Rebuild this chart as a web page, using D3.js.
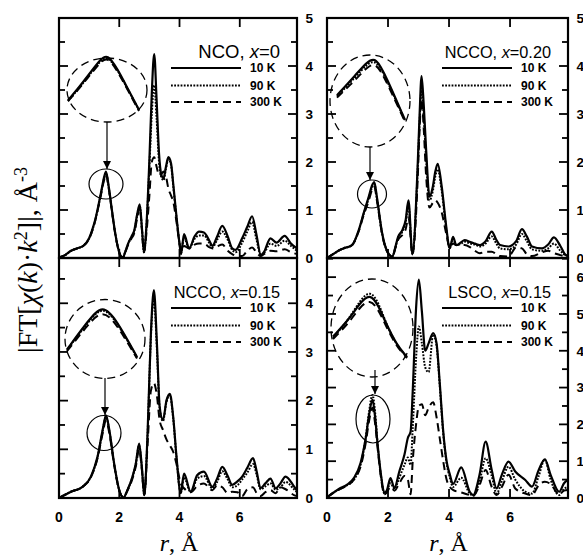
<!DOCTYPE html>
<html>
<head>
<meta charset="utf-8">
<script src="https://cdn.jsdelivr.net/npm/d3@7"></script>
<style>
  html, body { margin: 0; padding: 0; background: #fff; }
  svg { display: block; }
  .tick-lbl { font-family: "Liberation Sans", Arial, sans-serif; font-weight: bold; font-size: 13.5px; }
  .leg-lbl { font-family: "Liberation Sans", Arial, sans-serif; font-weight: bold; font-size: 12px; }
  .title { font-family: "Liberation Sans", Arial, sans-serif; }
  .axis-title { font-family: "Liberation Serif", "Times New Roman", serif; }
</style>
</head>
<body>
<script>
// |FT[chi(k)k^2]| magnitudes, r in Angstrom
const temps = ["10 K", "90 K", "300 K"];

// NCO, x = 0
const rNCO = [0, 0.2, 0.4, 0.6, 0.8, 1.0, 1.1, 1.2, 1.3, 1.4, 1.5, 1.56, 1.65, 1.75, 1.85, 1.95, 2.05, 2.12, 2.2, 2.3,
  2.4, 2.5, 2.6, 2.68, 2.75, 2.82, 2.9, 3.0, 3.08, 3.16, 3.24, 3.32, 3.4, 3.47, 3.55, 3.63, 3.72, 3.8, 3.9, 4.0,
  4.05, 4.15, 4.32, 4.5, 4.65, 4.81, 5.0, 5.09, 5.25, 5.42, 5.6, 5.75, 5.86, 6.08, 6.25, 6.41, 6.55, 6.7, 6.8, 7.02,
  7.22, 7.49, 7.7, 7.9];
const nco10K = [0.01, 0.06, 0.15, 0.2, 0.25, 0.41, 0.58, 0.79, 1.07, 1.38, 1.69, 1.8, 1.49, 1.03, 0.58, 0.24, 0.04, 0.01, 0.13, 0.31,
  0.44, 0.58, 0.93, 1.12, 0.65, 0.12, 0.65, 2.04, 3.43, 4.25, 3.29, 2.18, 1.73, 1.66, 1.9, 2.1, 1.97, 1.49, 0.86, 0.3,
  0.08, 0.5, 0.2, 0.45, 0.55, 0.53, 0.35, 0.25, 0.45, 0.67, 0.45, 0.2, 0.17, 0.41, 0.65, 0.87, 0.5, 0.06, 0.12, 0.41,
  0.32, 0.46, 0.3, 0.2];
const nco90K = [0.01, 0.06, 0.15, 0.2, 0.25, 0.41, 0.57, 0.78, 1.05, 1.36, 1.66, 1.77, 1.47, 1.02, 0.58, 0.24, 0.04, 0.01, 0.13, 0.3,
  0.43, 0.56, 0.9, 1.08, 0.63, 0.12, 0.62, 1.9, 3.0, 3.6, 2.9, 2.0, 1.68, 1.62, 1.86, 2.05, 1.93, 1.45, 0.84, 0.3,
  0.1, 0.42, 0.2, 0.4, 0.47, 0.47, 0.3, 0.22, 0.38, 0.55, 0.38, 0.17, 0.12, 0.32, 0.55, 0.75, 0.4, 0.06, 0.1, 0.3,
  0.25, 0.36, 0.25, 0.15];
const nco300K = [0.01, 0.06, 0.15, 0.2, 0.25, 0.4, 0.56, 0.77, 1.04, 1.34, 1.63, 1.74, 1.45, 1.0, 0.56, 0.23, 0.04, 0.01, 0.12, 0.28,
  0.4, 0.52, 0.85, 1.05, 0.6, 0.12, 0.5, 1.3, 2.0, 2.1, 1.9, 1.72, 1.75, 1.8, 1.7, 1.45, 1.3, 1.15, 0.75, 0.3,
  0.15, 0.25, 0.2, 0.28, 0.3, 0.3, 0.22, 0.2, 0.24, 0.28, 0.15, 0.08, 0.05, 0.04, 0.15, 0.22, 0.12, 0.04, 0.08, 0.15,
  0.14, 0.18, 0.12, 0.08];

// NCCO, x = 0.20
const rNCCO20 = [0, 0.2, 0.4, 0.54, 0.82, 1.04, 1.2, 1.37, 1.47, 1.55, 1.64, 1.81, 1.98, 2.14, 2.25, 2.33, 2.47, 2.58, 2.67, 2.8,
  2.97, 3.03, 3.1, 3.17, 3.25, 3.36, 3.47, 3.55, 3.63, 3.76, 3.91, 4.02, 4.13, 4.24, 4.4, 4.51, 4.7, 4.85, 5.01, 5.2,
  5.4, 5.55, 5.67, 5.95, 6.2, 6.39, 6.55, 6.72, 7.05, 7.25, 7.44, 7.65, 7.83, 7.9];
const ncco20_10K = [0.0, 0.08, 0.16, 0.2, 0.27, 0.58, 0.93, 1.28, 1.5, 1.58, 1.25, 0.51, 0.13, 0.03, 0.25, 0.44, 0.58, 0.8, 1.2, 0.08,
  1.9, 2.9, 3.79, 3.2, 2.25, 1.28, 1.49, 1.8, 1.96, 1.49, 0.65, 0.2, 0.44, 0.27, 0.33, 0.375, 0.33, 0.3, 0.27, 0.35,
  0.55, 0.38, 0.27, 0.24, 0.35, 0.6, 0.45, 0.24, 0.2, 0.28, 0.43, 0.25, 0.06, 0.05];
const ncco20_90K = [0.0, 0.08, 0.16, 0.2, 0.27, 0.57, 0.91, 1.25, 1.46, 1.54, 1.22, 0.5, 0.13, 0.03, 0.24, 0.42, 0.55, 0.75, 1.1, 0.08,
  1.8, 2.75, 3.5, 2.95, 2.05, 1.2, 1.4, 1.7, 1.85, 1.4, 0.6, 0.2, 0.4, 0.27, 0.3, 0.34, 0.3, 0.28, 0.24, 0.3,
  0.45, 0.3, 0.2, 0.18, 0.28, 0.5, 0.35, 0.18, 0.15, 0.2, 0.3, 0.15, 0.05, 0.04];
const ncco20_300K = [0.0, 0.08, 0.16, 0.2, 0.27, 0.56, 0.89, 1.2, 1.41, 1.49, 1.18, 0.48, 0.12, 0.03, 0.22, 0.38, 0.48, 0.6, 0.85, 0.08,
  1.6, 2.6, 3.3, 2.7, 1.7, 1.05, 1.15, 1.2, 1.15, 0.95, 0.5, 0.22, 0.3, 0.27, 0.27, 0.27, 0.22, 0.15, 0.1, 0.13,
  0.13, 0.08, 0.04, 0.03, 0.22, 0.2, 0.08, 0.04, 0.12, 0.15, 0.1, 0.06, 0.03, 0.02];

// NCCO, x = 0.15
const rNCCO15 = [0, 0.4, 0.78, 1.06, 1.28, 1.45, 1.56, 1.67, 1.83, 2.0, 2.14, 2.27, 2.44, 2.55, 2.66, 2.75, 2.83, 2.94, 3.05, 3.15,
  3.25, 3.34, 3.45, 3.57, 3.68, 3.79, 3.9, 4.04, 4.15, 4.37, 4.59, 4.81, 5.09, 5.25, 5.42, 5.6, 5.75, 5.92, 6.08, 6.25,
  6.44, 6.56, 6.69, 6.85, 7.02, 7.19, 7.35, 7.52, 7.8, 7.9];
const ncco15_10K = [0.0, 0.13, 0.23, 0.44, 0.85, 1.4, 1.7, 1.4, 0.71, 0.16, 0.01, 0.16, 0.44, 0.71, 1.12, 0.64, 0.06, 1.33, 3.38, 4.27,
  3.18, 1.88, 1.6, 2.01, 2.14, 1.67, 0.85, 0.1, 0.5, 0.13, 0.47, 0.54, 0.23, 0.4, 0.64, 0.45, 0.27, 0.34, 0.44, 0.62,
  0.82, 0.55, 0.2, 0.3, 0.4, 0.2, 0.3, 0.44, 0.24, 0.15];
const ncco15_90K = [0.0, 0.13, 0.23, 0.44, 0.84, 1.38, 1.67, 1.38, 0.7, 0.16, 0.01, 0.16, 0.43, 0.7, 1.08, 0.62, 0.06, 1.3, 3.3, 4.1,
  3.05, 1.85, 1.58, 1.98, 2.1, 1.64, 0.83, 0.1, 0.42, 0.12, 0.4, 0.45, 0.2, 0.33, 0.55, 0.38, 0.22, 0.26, 0.38, 0.52,
  0.7, 0.48, 0.18, 0.24, 0.3, 0.17, 0.22, 0.33, 0.18, 0.12];
const ncco15_300K = [0.0, 0.13, 0.23, 0.43, 0.82, 1.33, 1.6, 1.33, 0.68, 0.15, 0.01, 0.15, 0.4, 0.65, 1.0, 0.58, 0.06, 1.1, 2.2, 2.36,
  2.1, 1.6, 1.4, 1.2, 1.08, 0.95, 0.7, 0.3, 0.2, 0.12, 0.25, 0.3, 0.16, 0.26, 0.22, 0.1, 0.13, 0.12, 0.04, 0.18,
  0.22, 0.1, 0.04, 0.12, 0.16, 0.1, 0.22, 0.18, 0.06, 0.04];

// LSCO, x = 0.15
const rLSCO = [0, 0.22, 0.44, 0.66, 0.88, 1.1, 1.27, 1.38, 1.49, 1.58, 1.66, 1.77, 1.88, 1.96, 2.08, 2.21, 2.37, 2.54, 2.65, 2.74,
  2.81, 2.92, 3.01, 3.11, 3.22, 3.33, 3.48, 3.59, 3.7, 3.81, 3.92, 4.03, 4.13, 4.4, 4.68, 4.79, 5.0, 5.2, 5.4, 5.56,
  5.73, 5.95, 6.17, 6.5, 6.72, 6.94, 7.14, 7.33, 7.61, 7.77, 7.9];
const lsco10K = [0.02, 0.15, 0.27, 0.36, 0.54, 0.95, 1.63, 2.26, 2.67, 2.17, 1.45, 0.63, 0.14, 0.2, 0.54, 0.27, 0.72, 1.18, 1.63, 1.8,
  2.9, 5.16, 5.93, 5.07, 4.0, 4.2, 4.48, 4.21, 3.08, 1.81, 1.0, 0.63, 0.38, 0.83, 0.17, 0.08, 0.63, 1.53, 0.76, 0.26,
  0.63, 0.99, 0.72, 0.49, 0.31, 0.76, 1.05, 0.63, 0.17, 0.4, 0.5];
const lsco90K = [0.02, 0.15, 0.25, 0.35, 0.5, 0.9, 1.65, 2.35, 2.8, 2.3, 1.45, 0.6, 0.12, 0.18, 0.4, 0.25, 0.55, 0.9, 1.1, 0.9,
  1.9, 3.8, 4.66, 4.2, 3.55, 3.42, 4.44, 4.15, 3.0, 1.75, 0.95, 0.55, 0.3, 0.55, 0.12, 0.06, 0.45, 1.08, 0.6, 0.12,
  0.45, 0.85, 0.5, 0.17, 0.12, 0.6, 1.05, 0.5, 0.08, 0.25, 0.3];
const lsco300K = [0.02, 0.15, 0.25, 0.33, 0.5, 0.85, 1.5, 2.1, 2.45, 2.0, 1.35, 0.55, 0.1, 0.15, 0.3, 0.2, 0.4, 0.6, 0.5, 0.1,
  1.0, 2.0, 2.5, 2.55, 2.25, 2.45, 2.6, 2.2, 1.6, 1.0, 0.5, 0.3, 0.22, 0.15, 0.08, 0.06, 0.35, 0.76, 0.3, 0.08,
  0.3, 0.63, 0.26, 0.12, 0.08, 0.35, 0.44, 0.38, 0.1, 0.2, 0.22];

const xTicks = [0, 2, 4, 6];

// panel layout: frame, y-range, legend, magnified first-shell inset
const panels = [
  { name: "NCO", xval: "0", titleSize: 18.5, x0: 59, x1: 297, y0: 18, y1: 258, yMax: 5, yLabelMax: 5, xLabels: false,
    r: rNCO, series: [nco10K, nco90K, nco300K],
    inset: { cx: 107, cy: 90, rx: 40, ry: 32, r0: 1.2, r1: 1.85, px0: 68, px1: 139, v0: 0.58, v1: 1.8, py0: 110, py1: 54,
             sx: 106, sy: 184, srx: 17, sry: 15, ax: 107, ay0: 122, ay1: 169 } },
  { name: "NCCO", xval: "0.20", titleSize: 16.3, x0: 327, x1: 568, y0: 18, y1: 258, yMax: 5, yLabelMax: 5, xLabels: false,
    r: rNCCO20, series: [ncco20_10K, ncco20_90K, ncco20_300K],
    inset: { cx: 370, cy: 101, rx: 40, ry: 46, r0: 1.2, r1: 1.81, px0: 337, px1: 405, v0: 0.51, v1: 1.58, py0: 120, py1: 57,
             sx: 372, sy: 194, srx: 14.5, sry: 14, ax: 370, ay0: 147, ay1: 180 } },
  { name: "NCCO", xval: "0.15", titleSize: 16.3, x0: 59, x1: 297, y0: 258, y1: 498, yMax: 4.93, yLabelMax: 4, xLabels: true,
    r: rNCCO15, series: [ncco15_10K, ncco15_90K, ncco15_300K],
    inset: { cx: 105, cy: 339, rx: 40, ry: 39.5, r0: 1.28, r1: 1.83, px0: 67, px1: 137, v0: 0.71, v1: 1.7, py0: 357, py1: 304,
             sx: 104, sy: 433, srx: 17, sry: 17.5, ax: 105, ay0: 378, ay1: 415 } },
  { name: "LSCO", xval: "0.15", titleSize: 16.3, x0: 327, x1: 568, y0: 258, y1: 498, yMax: 6.52, yLabelMax: 6, xLabels: true,
    r: rLSCO, series: [lsco10K, lsco90K, lsco300K],
    inset: { cx: 372, cy: 328, rx: 41, ry: 49, r0: 1.1, r1: 1.88, px0: 333, px1: 407, v0: 0.14, v1: 2.67, py0: 357, py1: 293,
             sx: 373, sy: 419, srx: 17, sry: 24, ax: 375, ay0: 370, ay1: 394 } }
];

const styles = [
  { dash: null, width: 2.2 },
  { dash: "1.8,1.4", width: 2.0 },
  { dash: "8,5", width: 2.0 }
];

const W = 583, H = 558;
const svg = d3.select("body").append("svg").attr("width", W).attr("height", H);

svg.append("defs").append("marker")
  .attr("id", "arrowhead").attr("viewBox", "0 0 10 10")
  .attr("refX", 10).attr("refY", 5)
  .attr("markerWidth", 8).attr("markerHeight", 8).attr("markerUnits", "userSpaceOnUse")
  .attr("orient", "auto")
  .append("path").attr("d", "M0,0 L10,5 L0,10 Z").attr("fill", "#000");

panels.forEach((p, pi) => {
  const g = svg.append("g");
  const x = d3.scaleLinear().domain([0, 7.9]).range([p.x0, p.x1]);
  const y = d3.scaleLinear().domain([0, p.yMax]).range([p.y1, p.y0]);

  const clipId = "clip" + pi;
  g.append("clipPath").attr("id", clipId).append("rect")
    .attr("x", p.x0).attr("y", p.y0).attr("width", p.x1 - p.x0).attr("height", p.y1 - p.y0);

  // spectra
  const line = d3.line().x(d => x(d[0])).y(d => y(d[1])).curve(d3.curveMonotoneX);
  const cg = g.append("g").attr("clip-path", `url(#${clipId})`);
  p.series.slice().reverse().forEach((vals, ri) => {
    const si = p.series.length - 1 - ri;
    const pts = p.r.map((rv, i) => [rv, vals[i]]);
    cg.append("path").attr("d", line(pts))
      .attr("fill", "none").attr("stroke", "#000")
      .attr("stroke-width", styles[si].width)
      .attr("stroke-dasharray", styles[si].dash)
      .attr("stroke-linejoin", "round");
  });

  // magnified first peak
  const ins = p.inset;
  const ix = d3.scaleLinear().domain([ins.r0, ins.r1]).range([ins.px0, ins.px1]);
  const iy = d3.scaleLinear().domain([ins.v0, ins.v1]).range([ins.py0, ins.py1]);
  const iline = d3.line().x(d => ix(d[0])).y(d => iy(d[1])).curve(d3.curveBasis);
  p.series.slice().reverse().forEach((vals, ri) => {
    const si = p.series.length - 1 - ri;
    const pts = p.r.map((rv, i) => [rv, vals[i]]).filter(d => d[0] >= ins.r0 - 1e-9 && d[0] <= ins.r1 + 1e-9);
    g.append("path").attr("d", iline(pts))
      .attr("fill", "none").attr("stroke", "#000")
      .attr("stroke-width", styles[si].width)
      .attr("stroke-dasharray", styles[si].dash);
  });
  g.append("ellipse").attr("cx", ins.cx).attr("cy", ins.cy).attr("rx", ins.rx).attr("ry", ins.ry)
    .attr("fill", "none").attr("stroke", "#000").attr("stroke-width", 1.3).attr("stroke-dasharray", "8,5");
  g.append("ellipse").attr("cx", ins.sx).attr("cy", ins.sy).attr("rx", ins.srx).attr("ry", ins.sry)
    .attr("fill", "none").attr("stroke", "#000").attr("stroke-width", 1.2);
  g.append("line").attr("x1", ins.ax).attr("y1", ins.ay0).attr("x2", ins.ax).attr("y2", ins.ay1)
    .attr("stroke", "#000").attr("stroke-width", 1.2).attr("marker-end", "url(#arrowhead)");

  // frame
  g.append("rect").attr("x", p.x0).attr("y", p.y0).attr("width", p.x1 - p.x0).attr("height", p.y1 - p.y0)
    .attr("fill", "none").attr("stroke", "#000").attr("stroke-width", 2.2);

  // y ticks on both sides, labels on the right
  const yt = d3.range(0, p.yMax + 1e-9, 0.5);
  yt.forEach(t => {
    const len = Math.abs(t - Math.round(t)) < 1e-9 ? 9 : 6;
    const yy = y(t);
    g.append("line").attr("x1", p.x0).attr("x2", p.x0 + len).attr("y1", yy).attr("y2", yy)
      .attr("stroke", "#000").attr("stroke-width", 1.8);
    g.append("line").attr("x1", p.x1).attr("x2", p.x1 - len).attr("y1", yy).attr("y2", yy)
      .attr("stroke", "#000").attr("stroke-width", 1.8);
  });
  d3.range(0, p.yLabelMax + 1).forEach(t => {
    g.append("text").attr("class", "tick-lbl")
      .attr("x", p.x1 + 8.5).attr("y", y(t)).attr("dy", "0.36em")
      .text(t);
  });

  // x ticks top and bottom
  xTicks.filter(t => t > 0).forEach(t => {
    const xx = x(t);
    g.append("line").attr("x1", xx).attr("x2", xx).attr("y1", p.y1).attr("y2", p.y1 - 9)
      .attr("stroke", "#000").attr("stroke-width", 1.8);
    g.append("line").attr("x1", xx).attr("x2", xx).attr("y1", p.y0).attr("y2", p.y0 + 9)
      .attr("stroke", "#000").attr("stroke-width", 1.8);
  });
  if (p.xLabels) {
    xTicks.forEach(t => {
      g.append("text").attr("class", "tick-lbl").attr("text-anchor", "middle")
        .attr("x", x(t)).attr("y", p.y1 + 24).style("font-size", "14px").text(t);
    });
    const ttl = g.append("text").attr("class", "axis-title").attr("text-anchor", "middle")
      .attr("x", (p.x0 + p.x1) / 2 + 1).attr("y", 551).style("font-size", "24px");
    ttl.append("tspan").style("font-style", "italic").text("r");
    ttl.append("tspan").text(", Å");
  }

  // legend
  const t = g.append("text").attr("class", "title").attr("text-anchor", "end")
    .attr("x", p.x1 - 17).attr("y", p.y0 + 40).style("font-size", p.titleSize + "px");
  t.append("tspan").text(p.name + ", ");
  t.append("tspan").style("font-style", "italic").text("x");
  t.append("tspan").text("=" + p.xval);
  const rows = [50, 67.5, 84];
  temps.forEach((lbl, i) => {
    g.append("line").attr("x1", p.x1 - 126).attr("x2", p.x1 - 56)
      .attr("y1", p.y0 + rows[i]).attr("y2", p.y0 + rows[i])
      .attr("stroke", "#000").attr("stroke-width", styles[i].width)
      .attr("stroke-dasharray", styles[i].dash);
    g.append("text").attr("class", "leg-lbl")
      .attr("x", p.x1 - 47).attr("y", p.y0 + rows[i]).attr("dy", "0.36em").text(lbl);
  });
});

// shared y-axis title
const yt = svg.append("text").attr("class", "axis-title")
  .attr("transform", "translate(37,260) rotate(-90)")
  .attr("text-anchor", "middle").style("font-size", "28px");
yt.append("tspan").text("|FT[");
yt.append("tspan").style("font-style", "italic").text("χ");
yt.append("tspan").text("(");
yt.append("tspan").style("font-style", "italic").text("k");
yt.append("tspan").text(")·");
yt.append("tspan").style("font-style", "italic").text("k");
yt.append("tspan").attr("baseline-shift", "super").style("font-size", "18px").text("2");
yt.append("tspan").text("]|, Å");
yt.append("tspan").attr("baseline-shift", "super").style("font-size", "18px").text("-3");
</script>
</body>
</html>
